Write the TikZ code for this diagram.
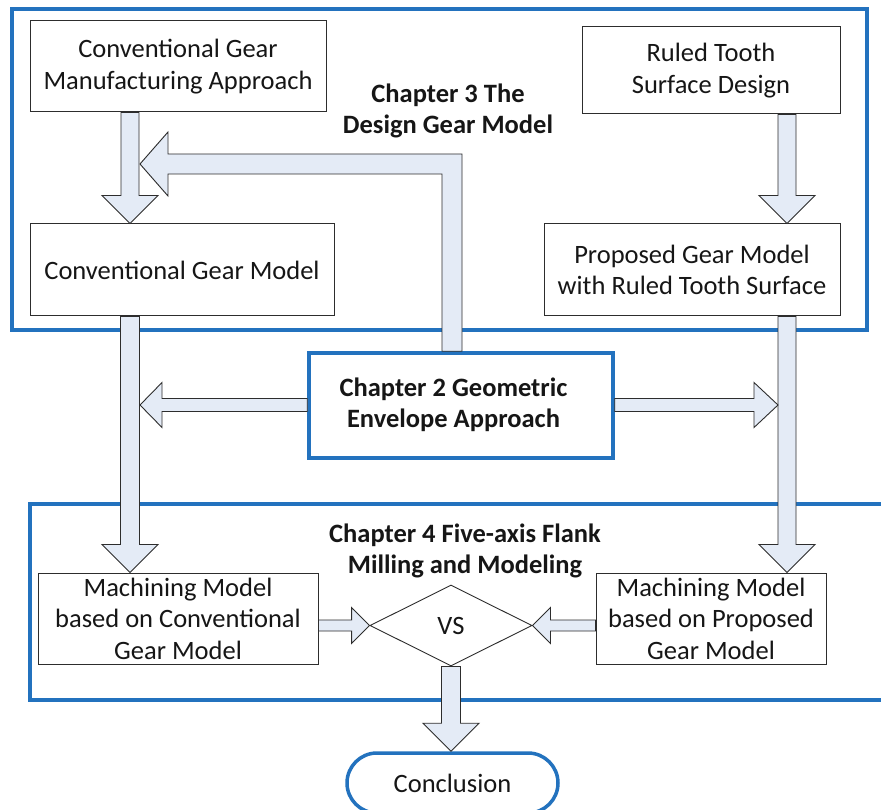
\documentclass[tikz,border=0pt]{standalone}
\usepackage{fontspec}
\setmainfont{Carlito}
\usetikzlibrary{calc,shapes.geometric}
\definecolor{fblue}{RGB}{35,114,190}
\definecolor{afill}{RGB}{228,235,246}
\definecolor{edgec}{RGB}{45,45,45}
\definecolor{txtc}{RGB}{22,22,22}
\newcommand\varrow[4]{%
  \filldraw[barrow] let \p1=(#2), \p2=(#3) in
   (#1pt-#4pt,\y1) -- (#1pt-#4pt,\y2+28pt) -- (#1pt-28pt,\y2+28pt) -- (#1pt,\y2)
   -- (#1pt+28pt,\y2+28pt) -- (#1pt+#4pt,\y2+28pt) -- (#1pt+#4pt,\y1) -- cycle;}
\newcommand\harrow[5]{%
  \filldraw[barrow] let \p1=(#1), \p2=(#2) in
   (\x1,\y2+#3pt) -- (\x2+#5pt,\y2+#3pt) -- (\x2+#5pt,\y2+#4pt) -- (\x2,\y2)
   -- (\x2+#5pt,\y2-#4pt) -- (\x2+#5pt,\y2-#3pt) -- (\x1,\y2-#3pt) -- cycle;}
\begin{document}
\begin{tikzpicture}[x=1pt,y=-1pt,
  every node/.style={text=txtc,font=\fontsize{26.5}{31.5}\selectfont,align=center,inner sep=0pt},
  gbox/.style={draw=edgec,line width=1pt,fill=white,rectangle},
  frame/.style={draw=fblue,line width=3.5pt},
  barrow/.style={draw=edgec,line width=0.9pt,fill=afill,line join=miter},
  bold/.style={font=\fontsize{26.5}{31.5}\selectfont\bfseries}]
\useasboundingbox (0,0) rectangle (881,810);
\fill[white] (0,0) rectangle (881,810);
% frames
\draw[frame] (12,9) rectangle (867,330);
\draw[frame] (30,504) rectangle (900,700);
% boxes
\node[gbox,minimum width=296pt,minimum height=91pt] (n1) at (178,66.5) {Conventional Gear\\Manufacturing Approach};
\node[gbox,minimum width=304pt,minimum height=92pt] (n2) at (182,270) {Conventional Gear Model};
\node[gbox,minimum width=258pt,minimum height=87pt] (n3) at (711,70.5) {Ruled Tooth\\Surface Design};
\node[gbox,minimum width=296pt,minimum height=92pt] (n4) at (692,270) {Proposed Gear Model\\with Ruled Tooth Surface};
\node[draw=fblue,line width=3.5pt,fill=white,minimum width=304pt,minimum height=105pt,bold] (ch2) at (461,405.5)
  {\begin{tabular}{@{}c@{\hspace{15pt}}}Chapter 2 Geometric\\Envelope Approach\end{tabular}};
\node[gbox,minimum width=280pt,minimum height=91pt] (m1) at (178,618.5) {Machining Model\\based on Conventional\\Gear Model};
\node[gbox,minimum width=230pt,minimum height=91pt] (m2) at (711,618.5) {Machining Model\\based on Proposed\\Gear Model};
\node[diamond,draw=edgec,line width=0.9pt,fill=white,aspect=2,minimum width=162pt,minimum height=81pt] (vs) at (451,625.5) {VS};
\node[draw=fblue,line width=3.5pt,fill=white,rounded corners=30pt,minimum width=211pt,minimum height=60pt] (concl) at (452.5,783) {Conclusion};
% labels
\node[bold] (l3) at (448,111) {Chapter 3 The\\Design Gear Model};
\node[bold] (l4) at (465,551) {Chapter 4 Five-axis Flank\\Milling and Modeling};
% tip coordinates
\coordinate (t3) at (140,164);
\coordinate (tL) at (140,405);
\coordinate (tR) at (778,405);
% vertical arrows
\varrow{130}{n1.south}{n2.north}{9}
\varrow{787}{n3.south}{n4.north}{9}
\varrow{130}{n2.south}{m1.north}{9.5}
\varrow{787}{n4.south}{m2.north}{9}
\varrow{451}{vs.south}{concl.north}{9.5}
% chapter 3 bent arrow
\filldraw[barrow] let \p1=(ch2.north), \p2=(t3) in
  (442pt,\y1) -- (442pt,\y2-10pt) -- (\x2+28pt,\y2-10pt) -- (\x2+28pt,\y2-32pt) -- (\x2,\y2)
  -- (\x2+28pt,\y2+32pt) -- (\x2+28pt,\y2+10pt) -- (462pt,\y2+10pt) -- (462pt,\y1) -- cycle;
% horizontal arrows
\harrow{ch2.west}{tL}{6.5}{22.5}{22}
\harrow{ch2.east}{tR}{6.5}{22.5}{-24}
\harrow{m1.east}{vs.west}{5.5}{18}{-18}
\harrow{m2.west}{vs.east}{5.5}{18}{18}
\end{tikzpicture}
\end{document}
